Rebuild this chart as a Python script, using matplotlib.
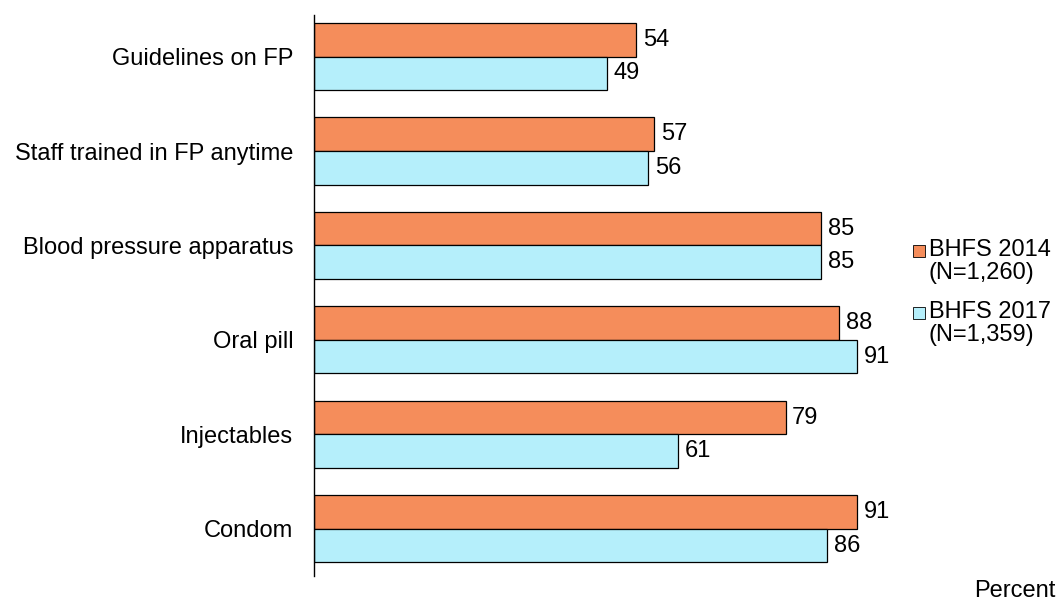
import matplotlib
matplotlib.use("Agg")
import matplotlib.pyplot as plt
import numpy as np
from matplotlib.patches import Rectangle

categories = ["Guidelines on FP", "Staff trained in FP anytime", "Blood pressure apparatus",
              "Oral pill", "Injectables", "Condom"]
vals_2014 = [54, 57, 85, 88, 79, 91]
vals_2017 = [49, 56, 85, 91, 61, 86]
series_labels = ["BHFS 2014\n(N=1,260)", "BHFS 2017\n(N=1,359)"]
colors = ["#F58D5B", "#B5EFFB"]

plt.rcParams['font.family'] = ['Liberation Sans', 'DejaVu Sans']
FS = 17

W, H = 1064, 607
fig = plt.figure(figsize=(W/100, H/100), dpi=100)
ax = fig.add_axes([314/W, 1-576/H, (911-314)/W, (576-15)/H])

y = np.arange(len(categories))
bh = 0.355
b1 = ax.barh(y - bh/2, vals_2014, height=bh, color=colors[0], edgecolor="black", linewidth=0.9)
b2 = ax.barh(y + bh/2, vals_2017, height=bh, color=colors[1], edgecolor="black", linewidth=0.9)

for bars, vals in ((b1, vals_2014), (b2, vals_2017)):
    for rect, v in zip(bars, vals):
        ax.text(v + 1.1, rect.get_y() + rect.get_height()/2, f"{v}", va="center", ha="left", fontsize=FS)

ax.set_xlim(0, 100)
ax.set_ylim(len(categories) - 1 + 0.5, -0.44)
ax.set_yticks(y)
ax.set_yticklabels(categories, fontsize=FS)
ax.tick_params(axis='y', length=0, pad=15)
ax.set_xticks([])
for s in ["top", "right", "bottom"]:
    ax.spines[s].set_visible(False)
ax.spines["left"].set_linewidth(1.0)

# legend drawn manually
leg_rows = [(251, 313)]
for lab, col, yc in zip(series_labels, colors, [251, 313]):
    fig.patches.append(Rectangle((913/W, 1-(yc+6)/H), 12/W, 12/H, transform=fig.transFigure,
                                 facecolor=col, edgecolor="black", linewidth=0.6))
    fig.text(929/W, 1-(yc-12)/H, lab, ha="left", va="top", fontsize=FS, linespacing=1.05)

fig.text(1055/W, 1-591/H, "Percent", ha="right", va="center", fontsize=FS)

fig.savefig("out.png", dpi=100)
